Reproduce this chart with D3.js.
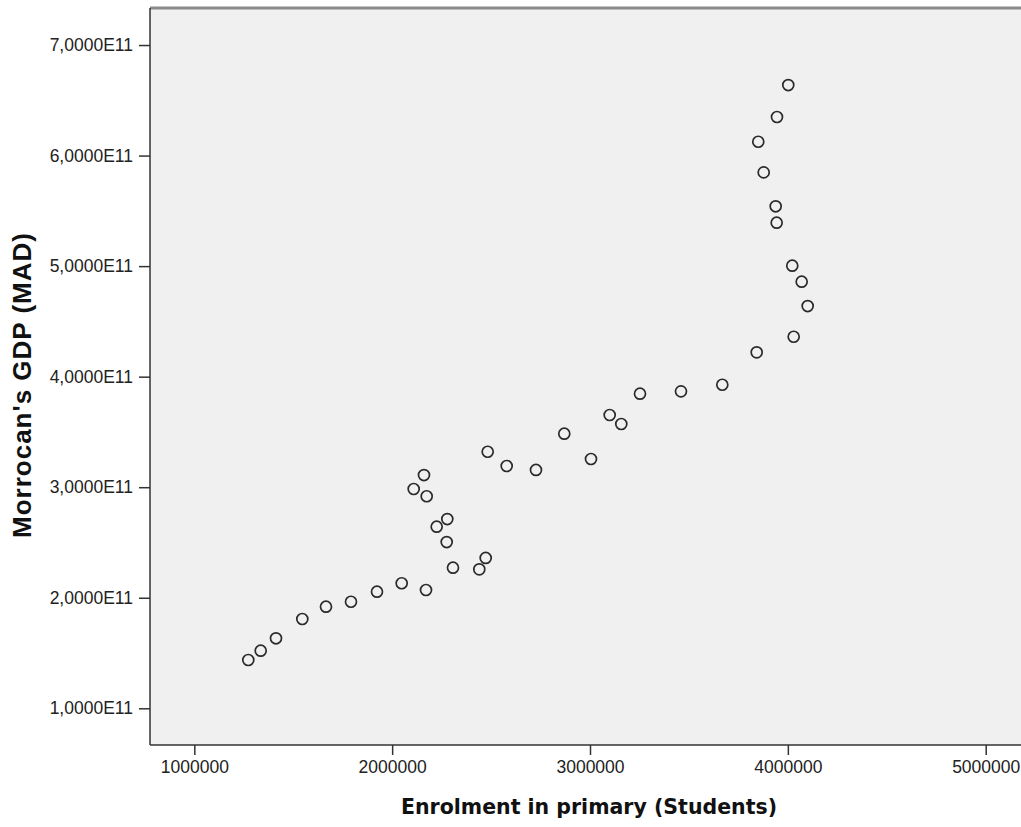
<!DOCTYPE html>
<html>
<head>
<meta charset="utf-8">
<script src="https://cdn.jsdelivr.net/npm/d3@7"></script>
<style>
  body { margin: 0; background: #fff; }
  .tick text { font-family: "Liberation Sans", Arial, sans-serif; font-size: 17.5px; fill: #222; }
  .x-title { font-family: "DejaVu Sans", Verdana, sans-serif; font-weight: bold; font-size: 20.5px; fill: #111; }
  .y-title { font-family: "Liberation Sans", Arial, sans-serif; font-weight: bold; font-size: 26px; letter-spacing: 1px; fill: #111; }
</style>
</head>
<body>
<svg id="chart"></svg>
<script>
// 1. Data
const enrolment = [
  1272900, 1335600, 1412900, 1545900, 1665600, 1792000, 1923400, 2048200,
  2171100, 2307500, 2440500, 2472800, 2275700, 2225100, 2278700, 2174600,
  2108900, 2160900, 2482900, 2578900, 2727000, 2870000, 3005000, 3099500,
  3158100, 3252700, 3459900, 3668700, 3842500, 4029500, 4100200, 4069900,
  4022300, 3943500, 3938500, 3877900, 3850500, 3945100, 4002100
]
const gdp = [
  1.437, 1.521, 1.633, 1.808, 1.919, 1.964, 2.055, 2.131,
  2.070, 2.272, 2.257, 2.360, 2.504, 2.643, 2.712, 2.918,
  2.984, 3.110, 3.321, 3.192, 3.156, 3.484, 3.255, 3.653,
  3.572, 3.846, 3.867, 3.927, 4.220, 4.361, 4.639, 4.859,
  5.004, 5.393, 5.541, 5.848, 6.125, 6.349, 6.638
].map(d => d * 1e11)

const xTicks = [1000000, 2000000, 3000000, 4000000, 5000000]
const yTicks = [1e11, 2e11, 3e11, 4e11, 5e11, 6e11, 7e11]
const xLabel = "Enrolment in primary (Students)"
const yLabel = "Morrocan's GDP (MAD)"

const data = enrolment.map((x, i) => ({ x: x, y: gdp[i] }))

// 2. Dimensions
let dimensions = {
  width: 1021,
  height: 827,
  margin: { top: 8, right: 0, bottom: 82, left: 150 },
}
dimensions.boundedWidth = dimensions.width - dimensions.margin.left - dimensions.margin.right
dimensions.boundedHeight = dimensions.height - dimensions.margin.top - dimensions.margin.bottom

// 3. Canvas
const wrapper = d3.select("#chart")
    .attr("width", dimensions.width)
    .attr("height", dimensions.height)

const bounds = wrapper.append("g")
    .attr("transform", `translate(${dimensions.margin.left},${dimensions.margin.top})`)

bounds.append("rect")
    .attr("width", dimensions.boundedWidth)
    .attr("height", dimensions.boundedHeight)
    .attr("fill", "#f0f0f0")

// 4. Scales
const xScale = d3.scaleLinear()
  .domain([776100, 5178400])
  .range([0, dimensions.boundedWidth])

const yScale = d3.scaleLinear()
  .domain([0.668e11, 7.335e11])
  .range([dimensions.boundedHeight, 0])

// 5. Points
bounds.append("g")
  .selectAll("circle")
  .data(data)
  .join("circle")
    .attr("cx", d => xScale(d.x))
    .attr("cy", d => yScale(d.y))
    .attr("r", 5.5)
    .attr("fill", "none")
    .attr("stroke", "#2a2a2a")
    .attr("stroke-width", 1.7)

// 6. Axes
const xAxis = d3.axisBottom(xScale)
  .tickValues(xTicks)
  .tickFormat(d3.format("d"))
  .tickSize(10)
  .tickPadding(6)

const yAxis = d3.axisLeft(yScale)
  .tickValues(yTicks)
  .tickFormat(d => (d / 1e11).toFixed(4).replace(".", ",") + "E11")
  .tickSize(11)
  .tickPadding(6)

const xAxisGroup = bounds.append("g")
    .attr("transform", `translate(0,${dimensions.boundedHeight})`)
    .call(xAxis)
const yAxisGroup = bounds.append("g").call(yAxis)

xAxisGroup.select(".domain").remove()
yAxisGroup.select(".domain").remove()
xAxisGroup.selectAll(".tick line").attr("stroke", "#333").attr("stroke-width", 1.5)
yAxisGroup.selectAll(".tick line").attr("stroke", "#333").attr("stroke-width", 1.5)

// frame: grey top, dark left and bottom
bounds.append("line")
    .attr("x1", 0).attr("x2", dimensions.boundedWidth)
    .attr("y1", 0).attr("y2", 0)
    .attr("stroke", "#8a8a8a").attr("stroke-width", 3)
bounds.append("line")
    .attr("x1", 0).attr("x2", 0)
    .attr("y1", 0).attr("y2", dimensions.boundedHeight)
    .attr("stroke", "#333").attr("stroke-width", 1.5)
bounds.append("line")
    .attr("x1", 0).attr("x2", dimensions.boundedWidth)
    .attr("y1", dimensions.boundedHeight).attr("y2", dimensions.boundedHeight)
    .attr("stroke", "#333").attr("stroke-width", 1.5)

// 7. Titles
wrapper.append("text")
    .attr("class", "x-title")
    .attr("x", 589)
    .attr("y", 814)
    .attr("text-anchor", "middle")
    .text(xLabel)

wrapper.append("text")
    .attr("class", "y-title")
    .attr("transform", "translate(31,385) rotate(-90)")
    .attr("text-anchor", "middle")
    .text(yLabel)
</script>
</body>
</html>
